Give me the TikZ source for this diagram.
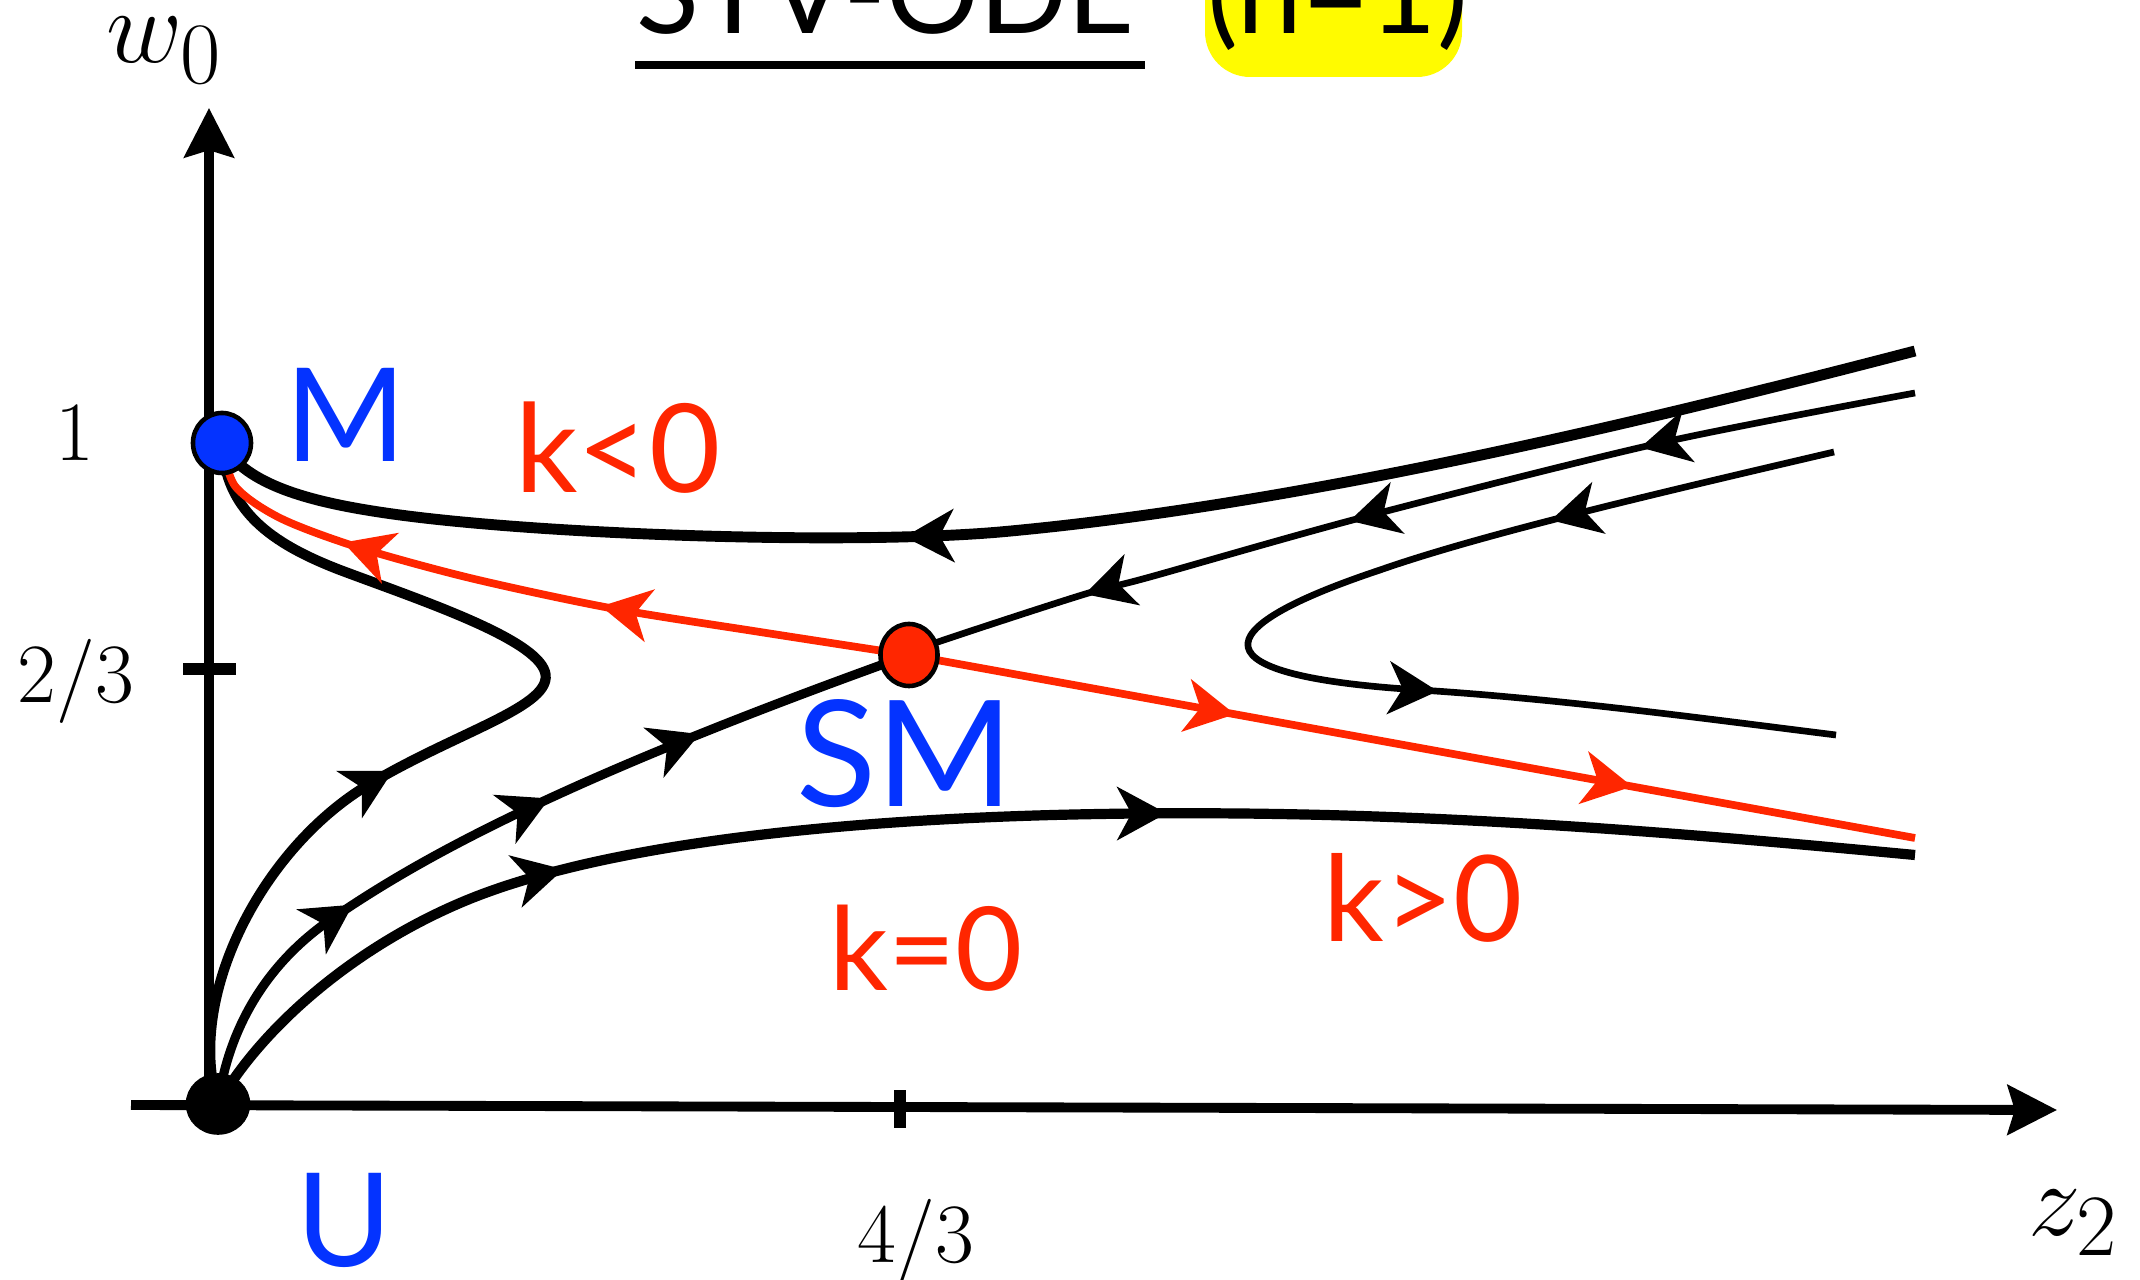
\documentclass[tikz,border=0pt]{standalone}
\usepackage[no-math]{fontspec}
\usepackage{graphicx}
\usetikzlibrary{arrows.meta,decorations.markings,shapes.geometric}
\newfontfamily\keyfont{Lato}
\definecolor{ptblue}{RGB}{4,51,255}
\definecolor{sepred}{RGB}{255,38,0}
\definecolor{hlyellow}{RGB}{255,251,0}

\begin{document}
\begin{tikzpicture}[
  x=0.01cm, y=-0.01cm,
  >={Stealth[length=14pt,width=15pt,inset=4pt]},
  axisline/.style={line width=2.8pt, -{Stealth[length=14pt,width=14pt,inset=2pt]}},
  tickmark/.style={line width=3.3pt},
  orbit/.style={line width=2.9pt, line join=round},
  thinorbit/.style={line width=1.9pt, line join=round},
  sep/.style={color=sepred, line width=2.2pt, line join=round},
  flow/.style={postaction={decorate, decoration={markings, mark=at position #1 with {\arrow{>}}}}},
  dot/.style={ellipse, draw=black, line width=1.3pt, inner sep=0pt},
  keylbl/.style={font=\keyfont\fontsize{#1}{#1}\selectfont, anchor=base, inner sep=0pt},
  num/.style={font=\fontsize{24}{28}\selectfont, anchor=base, inner sep=0pt},
  varlbl/.style={anchor=base west, inner sep=0pt, font=\fontsize{24.88}{30}\selectfont}
]
\useasboundingbox (0,0) rectangle (2140,1280);

\coordinate (M) at (222,443);
\coordinate (SM) at (909,655);
\coordinate (U) at (218,1104);
\coordinate (ytip) at (209,108);
\coordinate (xstart) at (131,1105);
\coordinate (xtip) at (2057,1110);
\coordinate (topend) at (1915,351);
\coordinate (sepend) at (1915,393);
\coordinate (hstart) at (1834,452);
\coordinate (hend) at (1836,735);
\coordinate (cend) at (1915,855);
\coordinate (rend) at (1915,838);

% title
\fill[hlyellow, rounded corners=0.45cm] (1205,-60) rectangle (1462,77);
\node[keylbl=33, anchor=base west] (title) at (636,34) {STV-ODE};
\draw[line width=2.3pt] (635,65) -- (1145,65);
\node[keylbl=33, anchor=base west] (case) at (1207,34) {(n=1)};

% axes
\draw[axisline] (U -| ytip) -- (ytip);
\draw[axisline] (xstart) -- (xtip);
\draw[tickmark] (183,669) -- (236,669);
\draw[tickmark] (900,1090) -- (900,1128);

\node[varlbl] (wlabel) at (106,63) {\scalebox{1.2}{$w_0$}};
\node[varlbl] (zlabel) at (2028,1235) {\scalebox{1.2}{$z_2$}};
\node[num] (one) at (75,461) {1};
\node[num] (twothirds) at (76,703) {2/3};
\node[num] (fourthirds) at (916,1262) {4/3};

% orbits
\draw[orbit, flow=0.40] (U) .. controls (185,1000) and (260,850) .. (368,785)
  .. controls (458,731) and (555,706) .. (545,672)
  .. controls (535,638) and (420,600) .. (340,570)
  .. controls (270,543) and (225,510) .. (M);
\draw[orbit, line width=2.6pt, flow=0.29, flow=0.55, flow=0.74] (U) .. controls (228,1030) and (265,965) .. (330,920)
  .. controls (420,858) and (560,780) .. (SM);
\draw[orbit, flow=0.24, flow=0.58] (U) .. controls (260,1030) and (350,950) .. (460,903)
  .. controls (600,843) and (850,818) .. (1100,814)
  .. controls (1400,809) and (1650,830) .. (cend);
\draw[orbit, line width=3.1pt, flow=0.594] (topend) .. controls (1650,420) and (1300,505) .. (1000,532)
  .. controls (850,545) and (550,535) .. (400,515)
  .. controls (310,503) and (245,485) .. (M);
\draw[thinorbit, flow=0.269, flow=0.557, flow=0.821] plot[smooth] coordinates {(sepend) (1660,443) (1364,517) (1150,577) (1082,595) (935,643) (SM)};
\draw[thinorbit, flow=0.237, flow=0.674] (hstart) .. controls (1650,495) and (1480,535) .. (1380,570)
  .. controls (1200,630) and (1195,676) .. (1420,690)
  .. controls (1560,699) and (1700,718) .. (hend);
\draw[sep, flow=0.418, flow=0.774] plot[smooth] coordinates {(SM) (760,632) (610,608) (470,578) (357,547) (280,518) (235,486) (M)};
\draw[sep, flow=0.324, flow=0.719] (SM) -- (rend);

% fixed points
\node[dot, fill=ptblue, minimum width=0.58cm, minimum height=0.6cm] (Mdot) at (M) {};
\node[dot, fill=sepred, minimum width=0.57cm, minimum height=0.62cm] (SMdot) at (SM) {};
\node[dot, fill=black, minimum width=0.6cm, minimum height=0.57cm] (Udot) at (U) {};

\node[keylbl=37, ptblue] (Mlabel) at (346,462) {M};
\node[keylbl=42, ptblue] (SMlabel) at (905,807) {SM};
\node[keylbl=37, ptblue] (Ulabel) at (344,1266) {U};
\node[keylbl=35, sepred] (kneg) at (618,493) {k<0};
\node[keylbl=33, sepred] (kzero) at (926,991) {k=0};
\node[keylbl=34, sepred] (kpos) at (1423,942) {k>0};
\end{tikzpicture}
\end{document}
